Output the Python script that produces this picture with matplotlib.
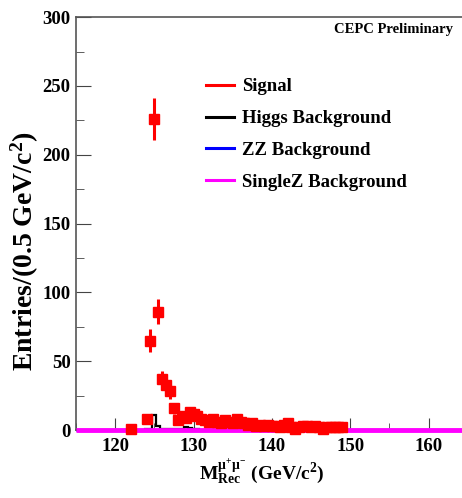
import numpy as np
import matplotlib.pyplot as plt

plt.rcParams['font.family'] = ['Liberation Serif', 'DejaVu Serif']
plt.rcParams['font.weight'] = 'bold'
plt.rcParams['axes.labelweight'] = 'bold'
plt.rcParams['mathtext.fontset'] = 'custom'
plt.rcParams['mathtext.rm'] = 'Liberation Serif:bold'
plt.rcParams['mathtext.it'] = 'Liberation Serif:bold'
plt.rcParams['mathtext.bf'] = 'Liberation Serif:bold'

# ---------- data (0.5 GeV bins) ----------
sig_mass = [122.0, 124.0, 124.5, 125.0, 125.5, 126.0, 126.5, 127.0, 127.5,
            128.0, 128.5, 129.0, 129.5, 130.0, 130.5, 131.0, 131.5, 132.0,
            132.5, 133.0, 133.5, 134.0, 134.5, 135.0, 135.5, 136.0, 136.5,
            137.0, 137.5, 138.0, 138.5, 139.0, 139.5, 140.0, 140.5, 141.0,
            141.5, 142.0, 142.5, 143.0, 143.5, 144.0, 144.5, 145.0, 145.5,
            146.0, 146.5, 147.0, 147.5, 148.0, 148.5, 149.0]
sig_counts = [1, 8, 65, 226, 86, 37, 33, 28, 16,
              7, 10, 9, 13, 12, 10, 8, 7, 6,
              8, 6, 5, 7, 6, 5, 8, 6, 5,
              4, 5, 3, 4, 3, 4, 3, 3, 2,
              4, 5, 2, 1, 2, 3, 3, 2, 3,
              2, 1, 2, 2, 2, 2, 2]

higgs_edges = [123.75, 124.25, 124.75, 125.25, 125.75, 126.25, 126.75, 127.25,
               127.75, 128.25, 128.75, 129.25, 129.75, 130.25, 130.75]
higgs_counts = [0.5, 1, 11, 3, 1, 1, 0.5, 1, 0.5, 1, 2, 1.5, 1, 0.5]

zz_edges = [115, 165]
zz_counts = [0.1]
singlez_edges = [115, 165]
singlez_counts = [0.3]

x_ticks = [120, 130, 140, 150, 160]
y_ticks = [0, 50, 100, 150, 200, 250, 300]

# ---------- figure ----------
fig = plt.figure(figsize=(4.62, 4.98), dpi=100)
ax = fig.add_axes([0.1645, 0.1365, 0.848, 0.829])

sig_mass = np.array(sig_mass)
sig_counts = np.array(sig_counts)
ax.errorbar(sig_mass, sig_counts, yerr=np.sqrt(sig_counts), fmt='s',
            color='red', ms=7.5, elinewidth=2.2, capsize=0, zorder=4,
            clip_on=False)

ax.stairs(higgs_counts, higgs_edges, color='black', lw=1.6, zorder=3)
ax.stairs(zz_counts, zz_edges, color='blue', lw=2, zorder=2, clip_on=False)
ax.stairs(singlez_counts, singlez_edges, color='magenta', lw=3.5, zorder=3,
          clip_on=False)

ax.set_xlim(115, 165)
ax.set_ylim(0, 300)
ax.set_xticks(x_ticks)
ax.set_xticks(np.arange(115, 166, 5), minor=True)
ax.set_yticks(y_ticks)
ax.set_yticks(np.arange(0, 301, 25), minor=True)
ax.tick_params(axis='both', which='major', direction='in', labelsize=13.5,
               color='#444444')
ax.tick_params(axis='x', which='major', length=9, pad=6)
ax.tick_params(axis='y', which='major', length=11, pad=4)
ax.tick_params(axis='x', which='minor', direction='in', length=5,
               color='#444444')
ax.tick_params(axis='y', which='minor', direction='in', length=6,
               color='#444444')
for s in ['left', 'top', 'bottom']:
    ax.spines[s].set_color('#555555')
    ax.spines[s].set_linewidth(1.2)
ax.spines['right'].set_visible(False)

ax.set_ylabel(r'Entries/(0.5 GeV/c$^{2}$)', fontsize=20, fontweight='bold')
ax.yaxis.set_label_coords(-0.09, 0.433)
ax.set_xlabel(r'M$_{\rm Rec}^{\mu^{+}\mu^{-}}$ (GeV/c$^{2}$)', fontsize=14,
              fontweight='bold')
ax.xaxis.set_label_coords(0.475, -0.065)

ax.text(0.963, 0.985, 'CEPC Preliminary', transform=ax.transAxes,
        ha='right', va='top', fontsize=10.5)

handles = [plt.Line2D([], [], color=c, lw=2.2) for c in
           ['red', 'black', 'blue', 'magenta']]
labels = ['Signal', 'Higgs Background', 'ZZ Background', 'SingleZ Background']
ax.legend(handles, labels, loc='upper left', bbox_to_anchor=(0.29, 0.893),
          frameon=False, fontsize=13.5, handlelength=1.45, handletextpad=0.45,
          labelspacing=0.78)

fig.savefig('out.png', dpi=100)
